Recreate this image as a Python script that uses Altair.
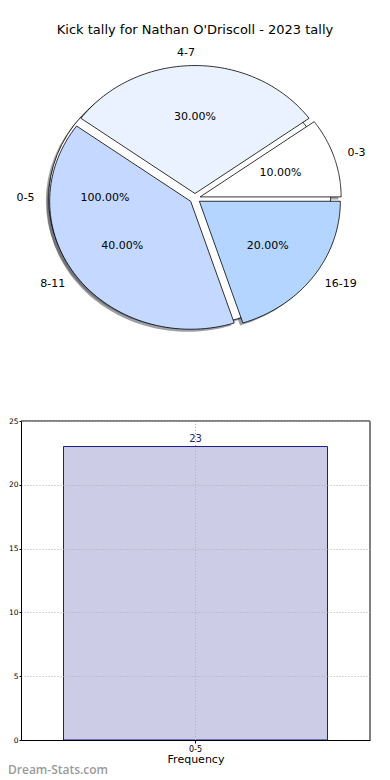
import math
import altair as alt
import pandas as pd

# ---------------- data ----------------
title_text = "Kick tally for Nathan O'Driscoll - 2023 tally"
inner_labels = ["0-3", "4-7", "8-11", "16-19"]
inner_values = [10, 30, 40, 20]
outer_labels = ["0-5"]
outer_values = [100]
bar_categories = ["0-5"]
bar_counts = [23]
y_ticks = [0, 5, 10, 15, 20, 25]
x_title = "Frequency"
watermark_text = "Dream-Stats.com"

# ---------------- styles ----------------
inner_colors = ["#ffffff", "#eaf1ff", "#c5d8ff", "#b4d5ff"]
outer_colors = ["#ffffff"]
shadow_inner = ["#4d4d4d", "#46484d", "#3b414d", "#36404d"]
shadow_outer = ["#4d4d4d"]
FONT = "DejaVu Sans"
EXPLODE = 0.038
N = 72
W = 349
H = 732


def ring(labels, values, name):
    total = float(sum(values))
    rows, cum = [], 0.0
    for lab, v in zip(labels, values):
        t1 = 2 * math.pi * cum / total
        cum += v
        t2 = 2 * math.pi * cum / total
        rows.append(dict(label=lab, value=v, frac=v / total, t1=t1, t2=t2, ring=name))
    return rows


pie_df = pd.DataFrame(ring(outer_labels, outer_values, "outer") + ring(inner_labels, inner_values, "inner"))
all_labels = outer_labels + inner_labels
fill_scale = alt.Scale(domain=all_labels, range=outer_colors + inner_colors)
shadow_scale = alt.Scale(domain=all_labels, range=shadow_outer + shadow_inner)

px_scale = alt.Scale(domain=[-1.5, 1.5], range=[174 - 211.5, 174 + 211.5], nice=False, zero=False)
py_scale = alt.Scale(domain=[-1.5, 1.5], range=[190.4 + 192, 190.4 - 192], nice=False, zero=False)

base = alt.Chart(pie_df)

poly = (
    base.transform_calculate(idx=f"sequence(0, {N + 3})")
    .transform_flatten(["idx"])
    .transform_calculate(mid="(datum.t1 + datum.t2) / 2")
    .transform_calculate(full="datum.t2 - datum.t1 > 2 * PI - 1e-9")
    .transform_calculate(a=f"datum.t1 + (datum.t2 - datum.t1) * clamp(datum.idx - 1, 0, {N}) / {N}")
    .transform_calculate(apex=f"!datum.full && (datum.idx == 0 || datum.idx == {N + 2})")
    .transform_calculate(px=f"{EXPLODE} * cos(datum.mid) + (datum.apex ? 0 : cos(datum.a))")
    .transform_calculate(py=f"{EXPLODE} * sin(datum.mid) + (datum.apex ? 0 : sin(datum.a))")
)

shadow = (
    poly.transform_calculate(sx="datum.px - 0.02", sy="datum.py - 0.02")
    .mark_line(strokeWidth=0, fillOpacity=0.5)
    .encode(
        x=alt.X("sx:Q", scale=px_scale, axis=None),
        y=alt.Y("sy:Q", scale=py_scale, axis=None),
        fill=alt.Fill("label:N", scale=shadow_scale, legend=None),
        detail="label:N",
        order=alt.Order("idx:Q"),
    )
)


def wedges(ring_name):
    return (
        poly.transform_filter(f"datum.ring == '{ring_name}'")
        .mark_line(strokeWidth=0.8, strokeJoin="round")
        .encode(
            x=alt.X("px:Q", scale=px_scale, axis=None),
            y=alt.Y("py:Q", scale=py_scale, axis=None),
            fill=alt.Fill("label:N", scale=fill_scale, legend=None),
            stroke=alt.value("black"),
            detail="label:N",
            order=alt.Order("idx:Q"),
        )
    )


outer_wedge = wedges("outer")
inner_wedges = wedges("inner")

lab = base.transform_calculate(mid="(datum.t1 + datum.t2) / 2").transform_calculate(
    lx=f"({EXPLODE} + 1.1) * cos(datum.mid)",
    ly=f"({EXPLODE} + 1.1) * sin(datum.mid)",
    qx=f"({EXPLODE} + 0.6) * cos(datum.mid)",
    qy=f"({EXPLODE} + 0.6) * sin(datum.mid)",
    pct="format(datum.frac * 100, '.2f') + '%'",
)

labels_left = (
    lab.transform_filter("cos(datum.mid) > 1e-9")
    .mark_text(align="left", baseline="middle", font=FONT, fontSize=11, color="black")
    .encode(x=alt.X("lx:Q", scale=px_scale, axis=None), y=alt.Y("ly:Q", scale=py_scale, axis=None), text="label:N")
)
labels_right = (
    lab.transform_filter("cos(datum.mid) <= 1e-9")
    .mark_text(align="right", baseline="middle", font=FONT, fontSize=11, color="black")
    .encode(x=alt.X("lx:Q", scale=px_scale, axis=None), y=alt.Y("ly:Q", scale=py_scale, axis=None), text="label:N")
)
pcts = lab.mark_text(align="center", baseline="middle", font=FONT, fontSize=11, color="black").encode(
    x=alt.X("qx:Q", scale=px_scale, axis=None), y=alt.Y("qy:Q", scale=py_scale, axis=None), text="pct:N"
)

pie = alt.layer(shadow, outer_wedge, inner_wedges, labels_left, labels_right, pcts).resolve_scale(fill="independent")

# ---------------- bar ----------------
bar_df = pd.DataFrame({"category": bar_categories, "count": bar_counts})
bbase = alt.Chart(bar_df)
xscale = alt.Scale(domain=bar_categories, paddingInner=0, paddingOuter=0.161)
xb = alt.X(
    "category:N",
    scale=xscale,
    axis=alt.Axis(orient="bottom", title=x_title, labelAngle=0, grid=False, zindex=1, titlePadding=0),
)
yscale = alt.Scale(domain=[0, 25], range=[H, 413], nice=False, zero=True)
yb = alt.Y(
    "count:Q",
    scale=yscale,
    axis=alt.Axis(orient="left", values=y_ticks, title=None, grid=True, zindex=1, tickSize=2, labelPadding=1, labelFontSize=7.5),
)

bars = bbase.mark_bar(fill="#ccccE6", stroke="#1c1c8c", strokeWidth=1).encode(x=xb, y=yb)
val = bbase.mark_text(dy=-8, font=FONT, fontSize=10, color="#24246e").encode(x=xb, y=yb, text="count:Q")
vgrid = bbase.mark_rule(color="#b0b0b0", strokeDash=[1, 2], strokeWidth=1).encode(
    x=xb, y=alt.datum(0, scale=yscale), y2=alt.datum(25)
)
top_rule = bbase.mark_rule(color="black", strokeWidth=1).encode(
    y=alt.datum(25, scale=yscale), x=alt.value(0), x2=alt.value(W)
)
right_rule = bbase.mark_rule(color="black", strokeWidth=1).encode(
    x=alt.value(W), y=alt.datum(0, scale=yscale), y2=alt.datum(25)
)
bar = alt.layer(bars, val, vgrid, top_rule, right_rule)

# ---------------- annotations ----------------
title = alt.Chart(pd.DataFrame({"t": [title_text]})).mark_text(
    x=174, y=22, align="center", baseline="middle", font=FONT, fontSize=13, color="black"
).encode(text="t:N")
wm = alt.Chart(pd.DataFrame({"t": [watermark_text]})).mark_text(
    x=-13, y=762, align="left", baseline="middle", font="Open Sans", fontSize=12, fontWeight=600, color="#9a9a9a"
).encode(text="t:N")

chart = (
    alt.layer(pie, bar, title, wm)
    .resolve_scale(x="independent", y="independent")
    .properties(
        width=W,
        height=H,
        autosize=alt.AutoSizeParams(type="none"),
        padding={"left": 13, "top": 0, "right": 12, "bottom": 40},
        background="white",
    )
    .configure_view(stroke=None)
    .configure_axis(
        labelFont=FONT,
        labelFontSize=8,
        labelColor="black",
        tickColor="black",
        domainColor="black",
        gridColor="#b0b0b0",
        gridDash=[1, 2],
        gridWidth=1,
        tickSize=3,
        labelPadding=2,
        titleFont=FONT,
        titleFontSize=11,
        titleFontWeight="normal",
        titleColor="black",
    )
)

chart.save("out.html", embed_options={"renderer": "svg", "actions": False})
